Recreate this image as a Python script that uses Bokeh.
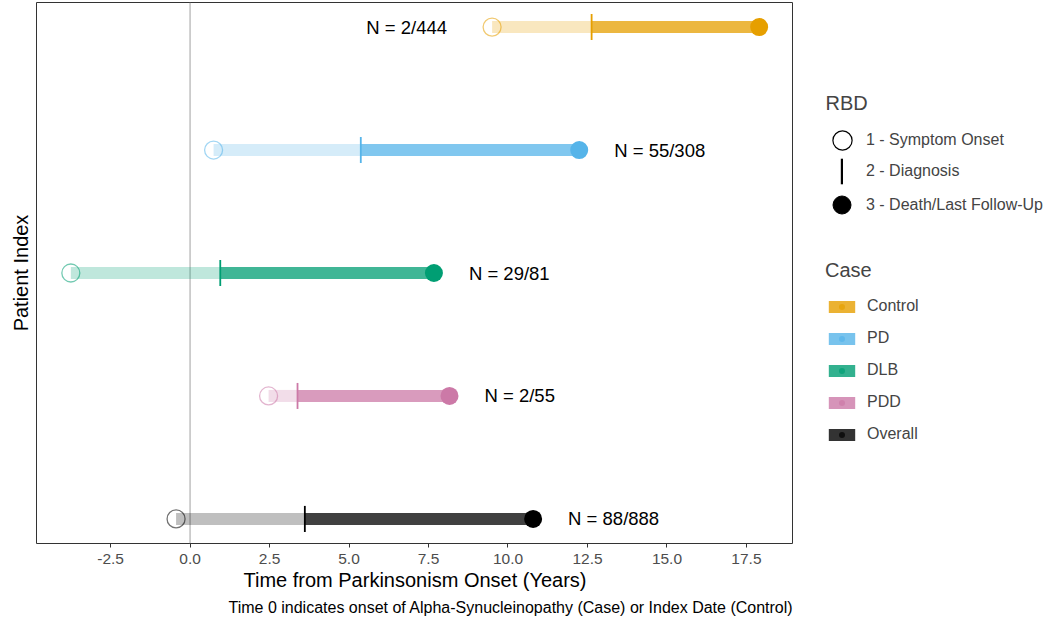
import numpy as np
from bokeh.plotting import figure
from bokeh.models import (Range1d, FixedTicker, NumeralTickFormatter, Span, Title, Label,
                          Legend, LegendItem, ColumnDataSource)
from bokeh.layouts import row
from bokeh.embed import file_html
from bokeh.resources import INLINE

# ---------------- data ----------------
cases = ["Control", "PD", "DLB", "PDD", "Overall"]
patient_index = [5, 4, 3, 2, 1]
onset = [9.5, 0.74, -3.75, 2.47, -0.44]
diagnosis = [12.63, 5.37, 0.95, 3.38, 3.61]
last_fu = [17.9, 12.24, 7.67, 8.16, 10.79]
n_labels = ["N = 2/444", "N = 55/308", "N = 29/81", "N = 2/55", "N = 88/888"]
label_side = ["left", "right", "right", "right", "right"]
colors = ["#E69F00", "#56B4E9", "#009E73", "#CC79A7", "#000000"]
x_ticks = [-2.5, 0.0, 2.5, 5.0, 7.5, 10.0, 12.5, 15.0, 17.5]
rbd_labels = ["1 - Symptom Onset", "2 - Diagnosis", "3 - Death/Last Follow-Up"]

FONT = "Liberation Sans"

src = ColumnDataSource(dict(case=cases, y=patient_index, onset=onset, diag=diagnosis,
                            end=last_fu, color=colors))

p = figure(width=793, height=622, x_range=Range1d(-4.83, 18.98), y_range=Range1d(0.8, 5.2),
           output_backend="svg", toolbar_location=None,
           min_border_left=36, min_border_right=0, min_border_top=2, min_border_bottom=79)
p.grid.visible = False
p.yaxis.visible = False
p.outline_line_color = "#333333"
p.outline_line_width = 1

p.add_layout(Span(location=0, dimension="height", line_color="#a0a0a0", line_width=1, level="underlay"))

# segments
p.segment(x0="onset", x1="diag", y0="y", y1="y", source=src, line_color="color",
          line_alpha=0.25, line_width=12, line_cap="butt")
p.segment(x0="diag", x1="end", y0="y", y1="y", source=src, line_color="color",
          line_alpha=0.75, line_width=12, line_cap="butt")
# onset circles (open)
p.scatter(x="onset", y="y", source=src, marker="circle", size=18, fill_color=None,
          line_color="color", line_alpha=0.55, line_width=1.3)
# diagnosis ticks
p.scatter(x="diag", y="y", source=src, marker="dash", angle=np.pi / 2, size=26,
          line_color="color", line_width=1.8)
# end points
p.scatter(x="end", y="y", source=src, marker="circle", size=18, fill_color="color",
          line_color=None)

# N labels
left_idx = [i for i, s in enumerate(label_side) if s == "left"]
right_idx = [i for i, s in enumerate(label_side) if s == "right"]
p.text(x=[onset[i] for i in left_idx], y=[patient_index[i] for i in left_idx],
       text=[n_labels[i] for i in left_idx], x_offset=-45, text_align="right",
       text_baseline="middle", text_font_size="18.5px", text_color="black",
       text_font={"value": FONT})
p.text(x=[last_fu[i] for i in right_idx], y=[patient_index[i] for i in right_idx],
       text=[n_labels[i] for i in right_idx], x_offset=35, text_align="left",
       text_baseline="middle", text_font_size="18.5px", text_color="black",
       text_font={"value": FONT})

# x axis
ax = p.xaxis[0]
ax.ticker = FixedTicker(ticks=x_ticks)
ax.formatter = NumeralTickFormatter(format="0.0")
ax.axis_line_color = None
ax.major_tick_in = 0
ax.major_tick_out = 4
ax.major_tick_line_color = "#333333"
ax.minor_tick_line_color = None
ax.major_label_text_font_size = "15.5px"
ax.major_label_text_color = "#4d4d4d"
ax.major_label_text_font = FONT
ax.major_label_standoff = 6
ax.axis_label = "Time from Parkinsonism Onset (Years)"
ax.axis_label_text_font_size = "20px"
ax.axis_label_text_font_style = "normal"
ax.axis_label_text_font = FONT
ax.axis_label_text_color = "black"
ax.axis_label_standoff = 2

p.add_layout(Title(text="Time 0 indicates onset of Alpha-Synucleinopathy (Case) or Index Date (Control)",
                   align="right", text_font_size="16px", text_font_style="normal",
                   text_font=FONT, text_color="black", standoff=7), "below")
p.add_layout(Title(text="Patient Index", align="center", text_font_size="20px",
                   text_font_style="normal", text_font=FONT, text_color="black",
                   standoff=10), "left")

# ---------------- legend panel ----------------
lg = figure(width=255, height=622, x_range=Range1d(0, 1), y_range=Range1d(0, 1),
            output_backend="svg", toolbar_location=None, min_border=0,
            x_axis_location=None, y_axis_location=None, outline_line_color=None)
lg.grid.visible = False

off = [-10]
r_on = lg.scatter(off, off, marker="circle", fill_color=None, line_color="black", line_width=1.2)
r_dx = lg.rect(off, off, width=1, height=1, fill_color="black", line_color=None)
r_end = lg.scatter(off, off, marker="circle", fill_color="black", line_color="black")

common = dict(padding=0, margin=0, border_line_color=None, background_fill_alpha=0,
              label_text_font_size="16px", label_text_font=FONT)

lg.add_layout(Label(x=32, y=441, x_units="screen", y_units="screen", text="RBD",
                    text_font_size="20px", text_font=FONT, text_baseline="middle"))

lg.add_layout(Legend(items=[LegendItem(label=rbd_labels[0], renderers=[r_on])],
                     location=(25, 379), glyph_width=48, glyph_height=48,
                     label_standoff=0, **common))
lg.add_layout(Legend(items=[LegendItem(label=rbd_labels[1], renderers=[r_dx])],
                     location=(47, 356), glyph_width=3, glyph_height=32,
                     label_standoff=23, **common))
lg.add_layout(Legend(items=[LegendItem(label=rbd_labels[2], renderers=[r_end])],
                     location=(26, 316), glyph_width=45, glyph_height=45,
                     label_standoff=2, **common))

case_items = []
for c, name in zip(colors, cases):
    rr = lg.rect(off, off, width=1, height=1, fill_color=c, fill_alpha=0.8, line_color=None)
    rd = lg.scatter(off, off, marker="circle", fill_color=c, fill_alpha=0.7, line_color=None)
    case_items.append(LegendItem(label=name, renderers=[rr, rd]))

lg.add_layout(Legend(items=case_items, title="Case", location=(32, 100), glyph_width=33,
                     glyph_height=15, spacing=14, label_standoff=9,
                     title_text_font_size="20px", title_text_font_style="normal",
                     title_text_font=FONT, title_standoff=15, **common))

layout = row(p, lg)
open("out.html", "w").write(file_html(layout, INLINE))
